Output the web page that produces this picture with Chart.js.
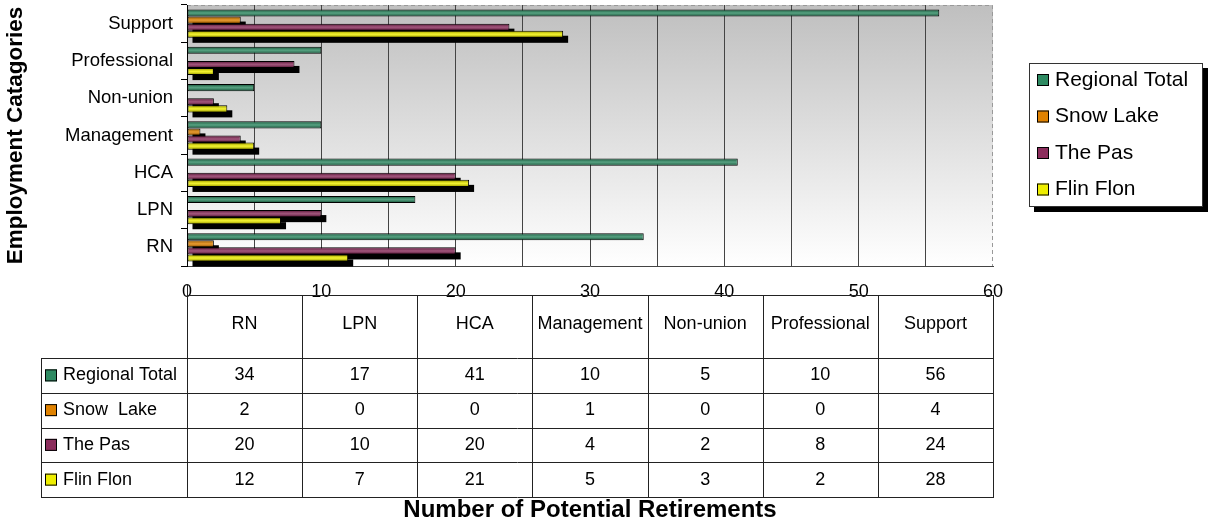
<!DOCTYPE html>
<html>
<head>
<meta charset="utf-8">
<script src="https://cdn.jsdelivr.net/npm/chart.js@4.4.1/dist/chart.umd.min.js"></script>
<style>
  html, body { margin: 0; padding: 0; background: #fff; }
</style>
</head>
<body>
<canvas id="retChart" width="1209" height="529"></canvas>
<script>
/* ====== DATA ====== */
const categories = ["RN", "LPN", "HCA", "Management", "Non-union", "Professional", "Support"];
const seriesNames = ["Regional Total", "Snow Lake", "The Pas", "Flin Flon"];
const tableNames = ["Regional Total", "Snow  Lake", "The Pas", "Flin Flon"];
const regionalTotal = [34, 17, 41, 10, 5, 10, 56];
const snowLake = [2, 0, 0, 1, 0, 0, 4];
const thePas = [20, 10, 20, 4, 2, 8, 24];
const flinFlon = [12, 7, 21, 5, 3, 2, 28];
const xTickLabels = [0, 10, 20, 30, 40, 50, 60];

const seriesValues = [regionalTotal, snowLake, thePas, flinFlon];
const barColors = ["#2E8A62", "#E08200", "#8B2D5C", "#EEEE00"];
const FONT = "'Liberation Sans', Arial, sans-serif";

/* ====== HELPERS ====== */
function drawKey(ctx, x, cy, color) {
  ctx.fillStyle = color;
  ctx.fillRect(x, cy - 6, 12, 12);
  ctx.strokeStyle = "#000";
  ctx.lineWidth = 1;
  ctx.strokeRect(x + 0.5, cy - 5.5, 11, 11);
}

/* ====== PLUGINS ====== */
// grey-to-white plot background + dashed top/right frame
const backdrop = {
  id: "backdrop",
  beforeDraw(chart) {
    const { ctx, chartArea: a } = chart;
    const g = ctx.createLinearGradient(0, a.top, 0, a.bottom);
    g.addColorStop(0, "#BFBFBF");
    g.addColorStop(1, "#FFFFFF");
    ctx.save();
    ctx.fillStyle = g;
    ctx.fillRect(a.left, a.top, a.right - a.left, a.bottom - a.top);
    ctx.strokeStyle = "#999";
    ctx.setLineDash([4, 3]);
    ctx.beginPath();
    ctx.moveTo(a.left, a.top + 0.5);
    ctx.lineTo(a.right - 0.5, a.top + 0.5);
    ctx.lineTo(a.right - 0.5, a.bottom);
    ctx.stroke();
    ctx.restore();
  }
};

// black drop shadow behind the bars (not for the first series)
const barShadow = {
  id: "barShadow",
  beforeDatasetsDraw(chart) {
    const ctx = chart.ctx;
    ctx.save();
    ctx.fillStyle = "#000";
    for (let d = 1; d < chart.data.datasets.length; d++) {
      const meta = chart.getDatasetMeta(d);
      meta.data.forEach((bar, i) => {
        if (!chart.data.datasets[d].data[i]) return;
        const { x, y, base, height } = bar.getProps(["x", "y", "base", "height"], true);
        ctx.fillRect(base + 5, y - height / 2 + 5, x - base, height);
      });
    }
    ctx.restore();
  },
  // tube-like shading on top of each bar
  afterDatasetsDraw(chart) {
    const ctx = chart.ctx;
    ctx.save();
    chart.data.datasets.forEach((ds, d) => {
      chart.getDatasetMeta(d).data.forEach((bar, i) => {
        if (!ds.data[i]) return;
        const { x, y, base, height } = bar.getProps(["x", "y", "base", "height"], true);
        const t = y - height / 2 + 1, b = y + height / 2 - 1;
        if (b <= t) return;
        const g = ctx.createLinearGradient(0, t, 0, b);
        g.addColorStop(0, "rgba(0,0,0,0.28)");
        g.addColorStop(0.5, "rgba(255,255,255,0.18)");
        g.addColorStop(1, "rgba(0,0,0,0.3)");
        ctx.fillStyle = g;
        ctx.fillRect(base + 1, t, x - base - 2, b - t);
      });
    });
    ctx.restore();
  }
};

// data table under the plot
const dataTable = {
  id: "dataTable",
  afterDraw(chart) {
    const { ctx, chartArea: a } = chart;
    const colW = (a.right - a.left) / categories.length;
    const top = 295, headBottom = 358, rowH = 34.75, labelLeft = 41;
    const bottom = headBottom + rowH * seriesValues.length;

    ctx.save();
    ctx.strokeStyle = "#222";
    ctx.lineWidth = 1;
    ctx.beginPath();
    ctx.moveTo(a.left, top + 0.5);
    ctx.lineTo(a.right + 1, top + 0.5);
    for (let r = 0; r <= seriesValues.length; r++) {
      const y = Math.round(headBottom + r * rowH) + 0.5;
      ctx.moveTo(labelLeft, y);
      ctx.lineTo(a.right + 1, y);
    }
    for (let c = 0; c <= categories.length; c++) {
      const x = Math.round(a.left + c * colW) + 0.5;
      ctx.moveTo(x, c === 0 ? 285 : top);
      ctx.lineTo(x, Math.round(bottom));
    }
    ctx.moveTo(labelLeft + 0.5, headBottom);
    ctx.lineTo(labelLeft + 0.5, Math.round(bottom));
    ctx.stroke();

    ctx.font = "18px " + FONT;
    ctx.textBaseline = "middle";
    ctx.textAlign = "center";
    ctx.fillStyle = "#000";
    categories.forEach((cat, c) => {
      ctx.fillText(cat, a.left + (c + 0.5) * colW, 324);
    });
    seriesValues.forEach((vals, r) => {
      const cy = headBottom + (r + 0.5) * rowH;
      vals.forEach((v, c) => {
        ctx.fillStyle = "#000";
        ctx.textAlign = "center";
        ctx.fillText(String(v), a.left + (c + 0.5) * colW, cy);
      });
      drawKey(ctx, 45, cy, barColors[r]);
      ctx.fillStyle = "#000";
      ctx.textAlign = "left";
      ctx.fillText(tableNames[r], 63, cy);
    });
    ctx.restore();
  }
};

// boxed legend with shadow on the right
const legendBox = {
  id: "legendBox",
  afterDraw(chart) {
    const ctx = chart.ctx;
    const L = 1029, T = 63, W = 174, H = 144;
    ctx.save();
    ctx.fillStyle = "#000";
    ctx.fillRect(L + 5, T + 5, W, H);
    ctx.fillStyle = "#fff";
    ctx.fillRect(L, T, W, H);
    ctx.strokeStyle = "#333";
    ctx.lineWidth = 1;
    ctx.strokeRect(L + 0.5, T + 0.5, W - 1, H - 1);
    ctx.font = "21px " + FONT;
    ctx.textBaseline = "middle";
    ctx.textAlign = "left";
    chart.data.datasets.forEach((ds, i) => {
      const cy = T + 17 + i * 36.5;
      drawKey(ctx, 1037, cy, ds.backgroundColor);
      ctx.fillStyle = "#000";
      ctx.fillText(ds.label, 1055, cy);
    });
    ctx.restore();
  }
};

/* ====== CHART ====== */
const ctx = document.getElementById("retChart").getContext("2d");

new Chart(ctx, {
  type: "bar",
  data: {
    labels: categories,
    datasets: seriesNames.map((name, i) => ({
      label: name,
      data: seriesValues[i],
      backgroundColor: barColors[i],
      borderColor: "#000",
      borderWidth: c => (c.raw ? 1 : 0),
      borderSkipped: false,
      categoryPercentage: 0.76,
      barPercentage: 1
    }))
  },
  options: {
    indexAxis: "y",
    responsive: false,
    animation: false,
    layout: { padding: { top: 5, right: 216, left: 0, bottom: 0 } },
    plugins: {
      legend: { display: false },
      tooltip: { enabled: false }
    },
    scales: {
      x: {
        min: 0,
        max: 60,
        ticks: {
          stepSize: 5,
          padding: 15,
          color: "#000",
          maxRotation: 0,
          autoSkip: false,
          font: { family: FONT, size: 18 },
          callback: v => (xTickLabels.includes(v) ? String(v) : "")
        },
        grid: {
          drawTicks: false,
          color: c => (c.tick && c.tick.value > 0 && c.tick.value < 60 ? "#444" : "rgba(0,0,0,0)")
        },
        border: { color: "#444" },
        title: {
          display: true,
          text: "Number of Potential Retirements",
          color: "#000",
          font: { family: FONT, size: 24, weight: "bold" },
          padding: { top: 0, bottom: 4 }
        },
        afterFit(s) { s.height = 263; s.paddingLeft = 0; s.paddingRight = 0; }
      },
      y: {
        reverse: true,
        ticks: {
          padding: 8,
          color: "#000",
          font: { family: FONT, size: 18.5 }
        },
        grid: { drawOnChartArea: false, drawTicks: true, tickLength: 6, color: "#000", offset: true },
        border: { color: "#000" },
        title: {
          display: true,
          text: "Employment Catagories",
          color: "#000",
          font: { family: FONT, size: 22.5, weight: "bold" },
          padding: { top: 2, bottom: 0 }
        },
        afterFit(s) { s.width = 187; s.paddingTop = 0; s.paddingBottom = 0; }
      }
    }
  },
  plugins: [backdrop, barShadow, dataTable, legendBox]
});
</script>
</body>
</html>
